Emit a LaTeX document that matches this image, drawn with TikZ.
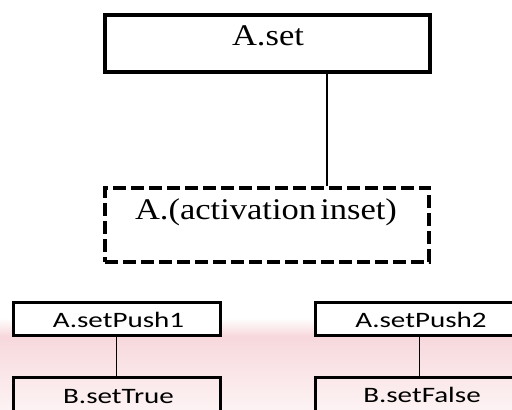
\documentclass[tikz,border=0pt]{standalone}
\usepackage{fontspec}
\usepackage{graphicx}
\setmainfont{Liberation Serif}
\newfontfamily\calib{Carlito}
\definecolor{washtop}{RGB}{247,216,220}
\definecolor{washlow}{RGB}{253,243,244}
\begin{document}
\begin{tikzpicture}[x=1pt,y=-1pt,
  bigbox/.style={draw, line width=4pt, inner sep=0pt, minimum width=325pt, minimum height=57.5pt},
  dashbox/.style={draw, line width=4pt, dash pattern=on 13pt off 5pt, inner sep=0pt,
                  minimum width=324pt, minimum height=74.5pt},
  smallbox/.style={draw, line width=3pt, inner sep=0pt, minimum width=206.5pt, minimum height=33.5pt},
  tallbox/.style={draw, line width=3pt, inner sep=0pt, minimum width=206.5pt, minimum height=60pt},
  serifText/.style={anchor=base, inner sep=0pt, font=\fontsize{30}{36}\selectfont},
  sansText/.style={anchor=base, inner sep=0pt, font=\calib\fontsize{22}{26}\selectfont},
  link/.style={draw, line width=#1},
  link/.default=1pt]
\useasboundingbox (0,0) rectangle (512,410);
\clip (0,0) rectangle (512,410);
\fill[white] (0,0) rectangle (512,410);

% pale pink wash behind the lower row
\shade[top color=white, bottom color=washtop] (0,318) rectangle (512,336);
\shade[top color=washtop, bottom color=washlow] (0,336) rectangle (512,410);

% boxes
\node[bigbox, fill=white] (aset) at (267.5,43.25) {};
\node[dashbox] (act) at (267,224.75) {};
\node[smallbox, fill=white] (push1) at (116.75,318.75) {};
\node[smallbox, fill=white] (push2) at (419,318.75) {};
\node[tallbox] (btrue) at (116.75,407.5) {};
\node[tallbox] (bfalse) at (419,407.5) {};

% labels
\node[serifText] (asetlabel) at (268,45) {\scalebox{1.15}[1]{A.set}};
\node[serifText] (actlabel) at (266,219) {\scalebox{1.15}[1]{A.(activation\hspace{0.12em}inset)}};
\node[sansText] (push1label) at (118.5,327) {\scalebox{1.32}[1]{A.setPush1}};
\node[sansText] (push2label) at (421,327) {\scalebox{1.32}[1]{A.setPush2}};
\node[sansText] (btruelabel) at (118.5,403) {\scalebox{1.32}[1]{B.setTrue}};
\node[sansText] (bfalselabel) at (422,402) {\scalebox{1.32}[1]{B.setFalse}};

% connectors
\draw[link=2pt] ([xshift=59.2pt]aset.south) -- ([xshift=59.7pt]act.north);
\draw[link] (push1.south) -- (btrue.north);
\draw[link] (push2.south) -- (bfalse.north);
\end{tikzpicture}
\end{document}
